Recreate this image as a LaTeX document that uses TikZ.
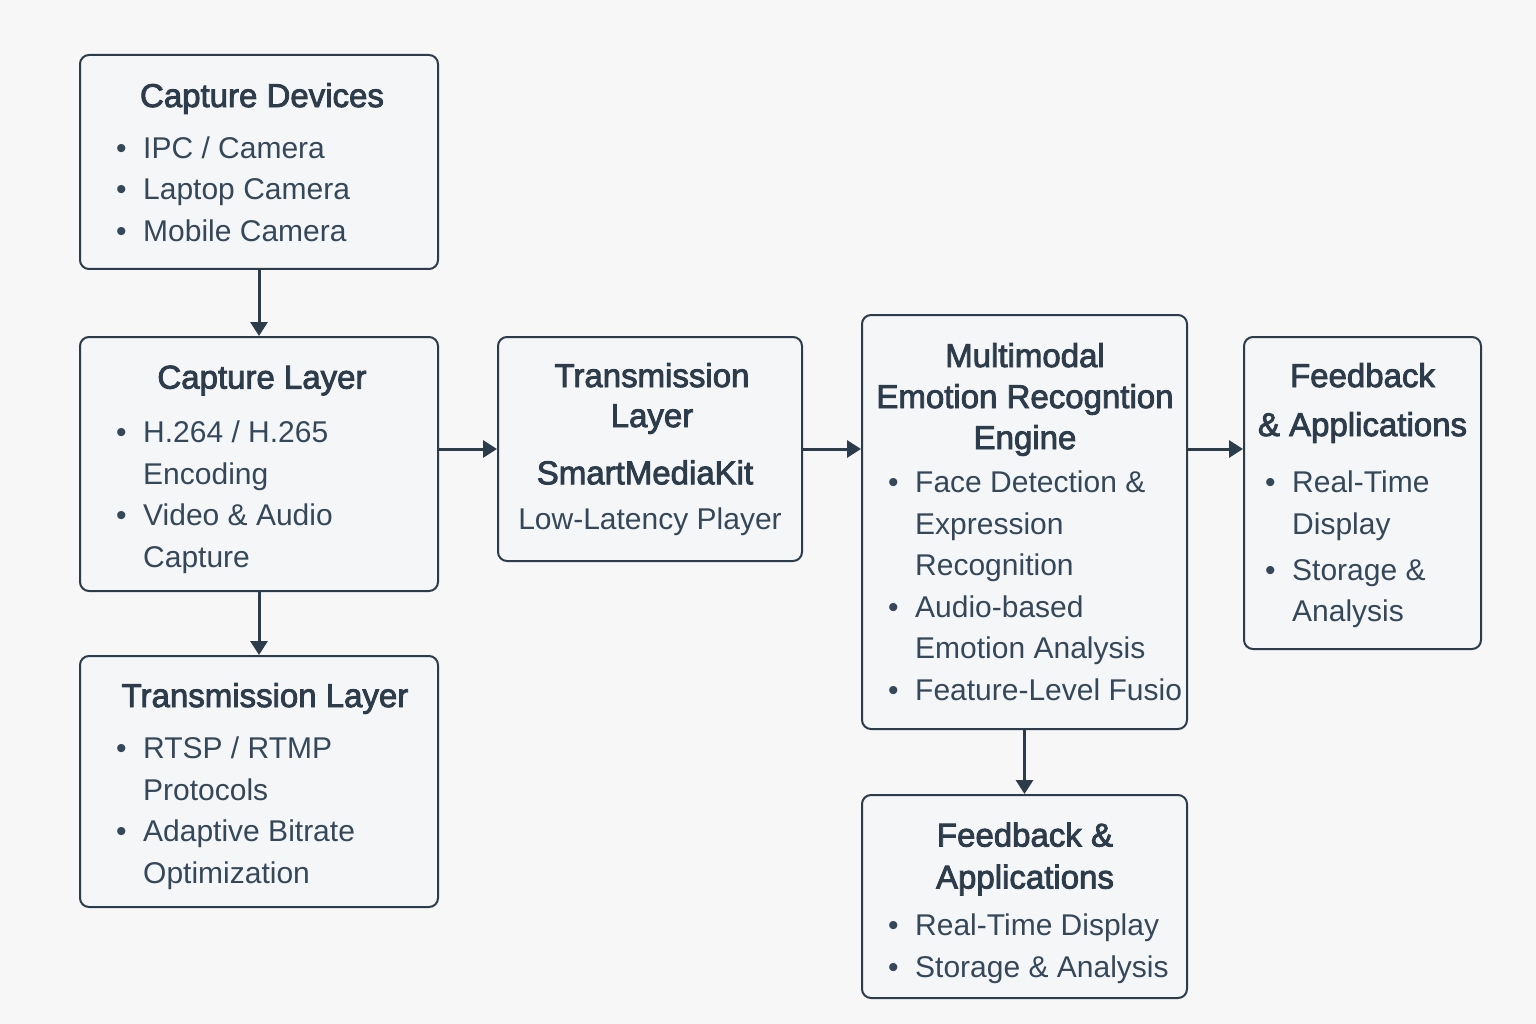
\documentclass[tikz,border=0pt]{standalone}
\usepackage{fontspec}
\setmainfont{Liberation Sans}
\newfontfamily\headfont{Liberation Sans}[FakeBold=2.6]
\usetikzlibrary{arrows.meta}
\definecolor{ink}{HTML}{2D3C4A}
\definecolor{txt}{HTML}{35485A}
\definecolor{paper}{HTML}{F7F7F7}
\definecolor{boxfill}{HTML}{F5F6F7}
\newcommand\bl{\makebox[27pt][l]{\textbullet}}

\begin{document}
\begin{tikzpicture}
    [%%%%%%%%%%%%%%%%%%%%%%%%%%%%%%
        x=1pt,y=-1pt,
        box/.style={rectangle,rounded corners=9pt,draw=ink,line width=2pt,fill=boxfill,inner sep=0pt},
        head/.style={align=center,inner sep=0pt,text=ink,font=\headfont\fontsize{33}{41}\selectfont},
        items/.style={anchor=base west,inner sep=0pt,text=txt,font=\fontsize{30}{41.5}\selectfont},
        arr/.style={draw=ink,line width=3pt,-{Triangle[width=17pt,length=14pt]}}
    ]%%%%%%%%%%%%%%%%%%%%%%%%%%%%%%

\fill[paper] (0,0) rectangle (1536,1024);
\useasboundingbox (0,0) rectangle (1536,1024);

\node[box,minimum width=358pt,minimum height=214pt] (cd) at (259,162) {};
\node[box,minimum width=358pt,minimum height=254pt] (cl) at (259,464) {};
\node[box,minimum width=358pt,minimum height=251pt] (tb) at (259,781.5) {};
\node[box,minimum width=304pt,minimum height=224pt] (tm) at (650,449) {};
\node[box,minimum width=325pt,minimum height=414pt] (mm) at (1024.5,522) {};
\node[box,minimum width=237pt,minimum height=312pt] (fr) at (1362.5,493) {};
\node[box,minimum width=325pt,minimum height=203pt] (fb) at (1024.5,896.5) {};

\node[head] (cdT) at (262,98.5) {Capture Devices};
\node[items] (cdL) at (116,158.5) {\begin{tabular}[t]{@{}l@{}l@{}}
    \bl & IPC / Camera\\ \bl & Laptop Camera\\ \bl & Mobile Camera
\end{tabular}};

\node[head] (clT) at (262,380.5) {Capture Layer};
\node[items] (clL) at (116,442.5) {\begin{tabular}[t]{@{}l@{}l@{}}
    \bl & H.264 / H.265\\ & Encoding\\ \bl & Video \& Audio\\ & Capture
\end{tabular}};

\node[head] (tbT) at (265,698.5) {Transmission Layer};
\node[items] (tbL) at (116,758.5) {\begin{tabular}[t]{@{}l@{}l@{}}
    \bl & RTSP / RTMP\\ & Protocols\\ \bl & Adaptive Bitrate\\ & Optimization
\end{tabular}};

\node[head,font=\headfont\fontsize{33}{40}\selectfont] (tmT) at (652,398.5) {Transmission\\Layer};
\node[head] (tmK) at (645,472.5) {SmartMediaKit};
\node[items,anchor=center,text=txt] (tmP) at (650,522) {Low-Latency Player};

\node[head] (mmT) at (1025,399.5) {Multimodal\\Emotion Recogntion\\Engine};
\node[items] (mmL) at (888,492.5) {\begin{tabular}[t]{@{}l@{}l@{}}
    \bl & Face Detection \&\\ & Expression\\ & Recognition\\
    \bl & Audio-based\\ & Emotion Analysis\\ \bl & Feature-Level Fusio
\end{tabular}};

\node[head] (frT) at (1362.5,403) {Feedback\\[8pt]\& Applications};
\node[items] (frL) at (1265,492.5) {\begin{tabular}[t]{@{}l@{}l@{}}
    \bl & Real-Time\\ & Display\\[4.5pt] \bl & Storage \&\\ & Analysis
\end{tabular}};

\node[head,font=\headfont\fontsize{33}{42}\selectfont] (fbT) at (1025,859) {Feedback \&\\Applications};
\node[items] (fbL) at (888,935.5) {\begin{tabular}[t]{@{}l@{}l@{}}
    \bl & Real-Time Display\\ \bl & Storage \& Analysis
\end{tabular}};

\foreach \a/\b in {cd/cl,cl/tb,mm/fb}
    \draw[arr] (\a) -- (\b);
\draw[arr] (cl.east |- tm) -- (tm.west);
\draw[arr] (tm.east) -- (tm.east -| mm.west);
\draw[arr] (tm.east -| mm.east) -- (tm.east -| fr.west);

\end{tikzpicture}
\end{document}
